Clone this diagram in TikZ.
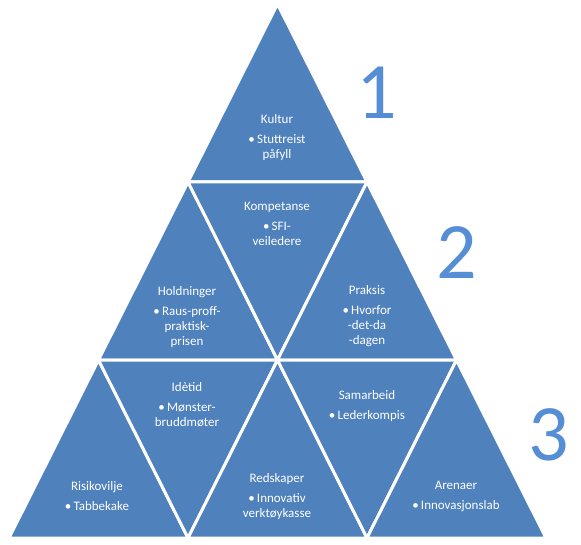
\documentclass[tikz,border=0pt]{standalone}
\usepackage{fontspec}
\setmainfont{Carlito}
\definecolor{triblue}{HTML}{4F81BD}
\definecolor{numblue}{HTML}{558ED5}
\begin{document}
\begin{tikzpicture}[x=1pt,y=-1pt,
  tri/.style={fill=triblue,draw=white,line width=3pt,line join=miter},
  lbl/.style={anchor=north,inner sep=0pt,align=center,text=white,font=\fontsize{13}{15}\selectfont},
  bignum/.style={anchor=base,inner sep=0pt,text=numblue,font=\fontsize{80}{80}\selectfont}]
\useasboundingbox (0,0) rectangle (581,545);
\coordinate (a0) at (277.5,4);
\coordinate (b0) at (188,182);
\coordinate (b1) at (367,182);
\coordinate (c0) at (98.5,360);
\coordinate (c1) at (277.5,360);
\coordinate (c2) at (456.5,360);
\coordinate (d0) at (9,538);
\coordinate (d1) at (188,538);
\coordinate (d2) at (367,538);
\coordinate (d3) at (546,538);
\path[tri] (a0) -- (b0) -- (b1) -- cycle;
\path[tri] (b0) -- (c0) -- (c1) -- cycle;
\path[tri] (b0) -- (b1) -- (c1) -- cycle;
\path[tri] (b1) -- (c1) -- (c2) -- cycle;
\path[tri] (c0) -- (d0) -- (d1) -- cycle;
\path[tri] (c0) -- (c1) -- (d1) -- cycle;
\path[tri] (c1) -- (d1) -- (d2) -- cycle;
\path[tri] (c1) -- (c2) -- (d2) -- cycle;
\path[tri] (c2) -- (d2) -- (d3) -- cycle;
\node[lbl] (kultur) at (277,114) {Kultur\\[5pt]\textbullet\,Stuttreist\\påfyll};
\node[lbl] (kompetanse) at (277,202) {Kompetanse\\[5pt]\textbullet\,SFI-\\veiledere};
\node[lbl] (holdninger) at (187,286) {Holdninger\\[5pt]\textbullet\,Raus-proff-\\praktisk-\\prisen};
\node[lbl] (praksis) at (367,285) {Praksis\\[5pt]\textbullet\,Hvorfor\\-det-da\\-dagen};
\node[lbl] (idetid) at (187,382) {Idètid\\[5pt]\textbullet\,Mønster-\\bruddmøter};
\node[lbl] (risiko) at (97,481) {Risikovilje\\[5pt]\textbullet\,Tabbekake};
\node[lbl] (redskaper) at (277,473) {Redskaper\\[5pt]\textbullet\,Innovativ\\verktøykasse};
\node[lbl] (samarbeid) at (367,390) {Samarbeid\\[5pt]\textbullet\,Lederkompis};
\node[lbl] (arenaer) at (456,481) {Arenaer\\[5pt]\textbullet\,Innovasjonslab};
\node[bignum] (n1) at (376.5,119) {1};
\node[bignum] (n2) at (456.5,279) {2};
\node[bignum] (n3) at (548.5,460) {3};
\end{tikzpicture}
\end{document}
